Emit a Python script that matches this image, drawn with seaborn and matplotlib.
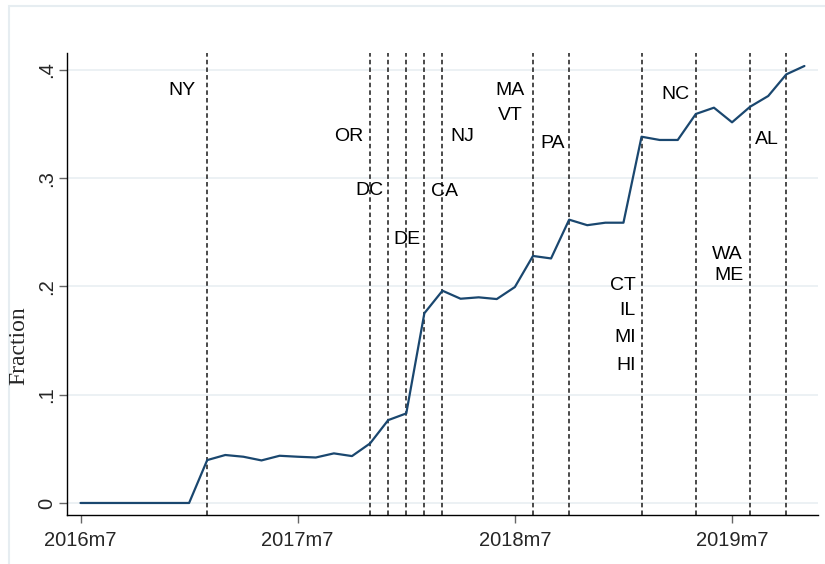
import numpy as np
import pandas as pd
import matplotlib
matplotlib.use("Agg")
import matplotlib.pyplot as plt
import seaborn as sns
from matplotlib.patches import Rectangle

# monthly series, 2016m7 .. 2019m11
months = [f"{p.year}m{p.month}" for p in pd.period_range("2016-07", "2019-11", freq="M")]
fraction = [0, 0, 0, 0, 0, 0, 0,
            0.0396, 0.0443, 0.0427, 0.0393, 0.0436, 0.0427, 0.0420, 0.0458, 0.0433,
            0.0550, 0.0765, 0.0827, 0.1752, 0.1960, 0.1886, 0.1899, 0.1883, 0.1994,
            0.2281, 0.2258, 0.2616, 0.2565, 0.2588, 0.2588, 0.3382, 0.3352, 0.3352,
            0.3592, 0.3650, 0.3515, 0.3659, 0.3758, 0.3958, 0.4035]

# dates of the vertical reference lines
law_dates = ["2017m2", "2017m11", "2017m12", "2018m1", "2018m2", "2018m3",
             "2018m8", "2018m10", "2019m2", "2019m5", "2019m8", "2019m10"]
states = ["NY", "OR", "DC", "DE", "CA", "NJ", "MA", "VT", "PA",
          "CT", "IL", "MI", "HI", "NC", "WA", "ME", "AL"]
xtick_labels = ["2016m7", "2017m7", "2018m7", "2019m7"]
ytick_vals = [0, 0.1, 0.2, 0.3, 0.4]
ytick_labels = ["0", ".1", ".2", ".3", ".4"]

# label placement (x in months since 2016m7, y in data units, alignment)
label_pos = [(5.63, 0.3835, "center"), (14.82, 0.3407, "center"), (15.99, 0.2913, "center"),
             (18.04, 0.2452, "center"), (20.12, 0.2900, "center"), (21.08, 0.3407, "center"),
             (23.75, 0.3835, "center"), (23.73, 0.3598, "center"), (26.10, 0.3345, "center"),
             (30.69, 0.2036, "right"), (30.69, 0.1798, "right"), (30.69, 0.1556, "right"),
             (30.69, 0.1297, "right"), (32.85, 0.3798, "center"), (35.75, 0.2320, "center"),
             (35.81, 0.2121, "center"), (37.93, 0.3382, "center")]


def month_pos(s):
    y, m = s.split("m")
    return (int(y) - 2016) * 12 + int(m) - 7


df = pd.DataFrame({"month": [month_pos(m) for m in months], "fraction": fraction})

sns.set_style("white")
plt.rcParams["font.family"] = ["Liberation Sans", "DejaVu Sans"]

fig = plt.figure(figsize=(8.25, 5.64), dpi=100)
# outer graph-region frame (cropped at right/bottom)
fig.patches.append(Rectangle((8.5 / 825, -0.1), 1.2, (564 - 5.7) / 564 + 0.1,
                             transform=fig.transFigure, fill=False,
                             edgecolor="#e6edf1", linewidth=1.5))
ax = fig.add_axes([67.3 / 825, 49 / 564, 750.7 / 825, 462 / 564])

for v in ytick_vals:
    ax.axhline(v, color="#eaf0f3", linewidth=1.3, zorder=0)

for d in law_dates:
    ax.axvline(month_pos(d), color="#333333", linewidth=1.25,
               linestyle=(0, (2.6, 1.8)), zorder=1)

sns.lineplot(data=df, x="month", y="fraction", color="#1a476f", linewidth=1.6, ax=ax, zorder=2)

for s, (x, y, ha) in zip(states, label_pos):
    ax.text(x, y - 0.0065, s, ha=ha, va="baseline", fontsize=14, color="black")

ax.set_xlim(-0.73, 40.75)
ax.set_ylim(-0.0111, 0.4155)
ax.set_xticks([month_pos(t) for t in xtick_labels])
ax.set_xticklabels(xtick_labels, fontsize=14.5)
ax.set_yticks(ytick_vals)
ax.set_yticklabels(ytick_labels, fontsize=14.5, rotation=90, va="center")
ax.tick_params(axis="x", length=5.8, width=1, color="#666666", pad=5.8, direction="out")
ax.tick_params(axis="y", length=5.8, width=1, color="#666666", pad=2.4, direction="out")
ax.tick_params(left=True, bottom=True)

for side in ["top", "right"]:
    ax.spines[side].set_visible(False)
for side in ["left", "bottom"]:
    ax.spines[side].set_color("black")
    ax.spines[side].set_linewidth(1.0)

ax.set_xlabel("")
ax.set_ylabel("")
fig.text(19 / 825, 1 - 346 / 564, "Fraction", rotation=90, ha="center", va="center",
         fontsize=17, family=["Liberation Serif", "DejaVu Serif"])

fig.savefig("out.png", dpi=100)
